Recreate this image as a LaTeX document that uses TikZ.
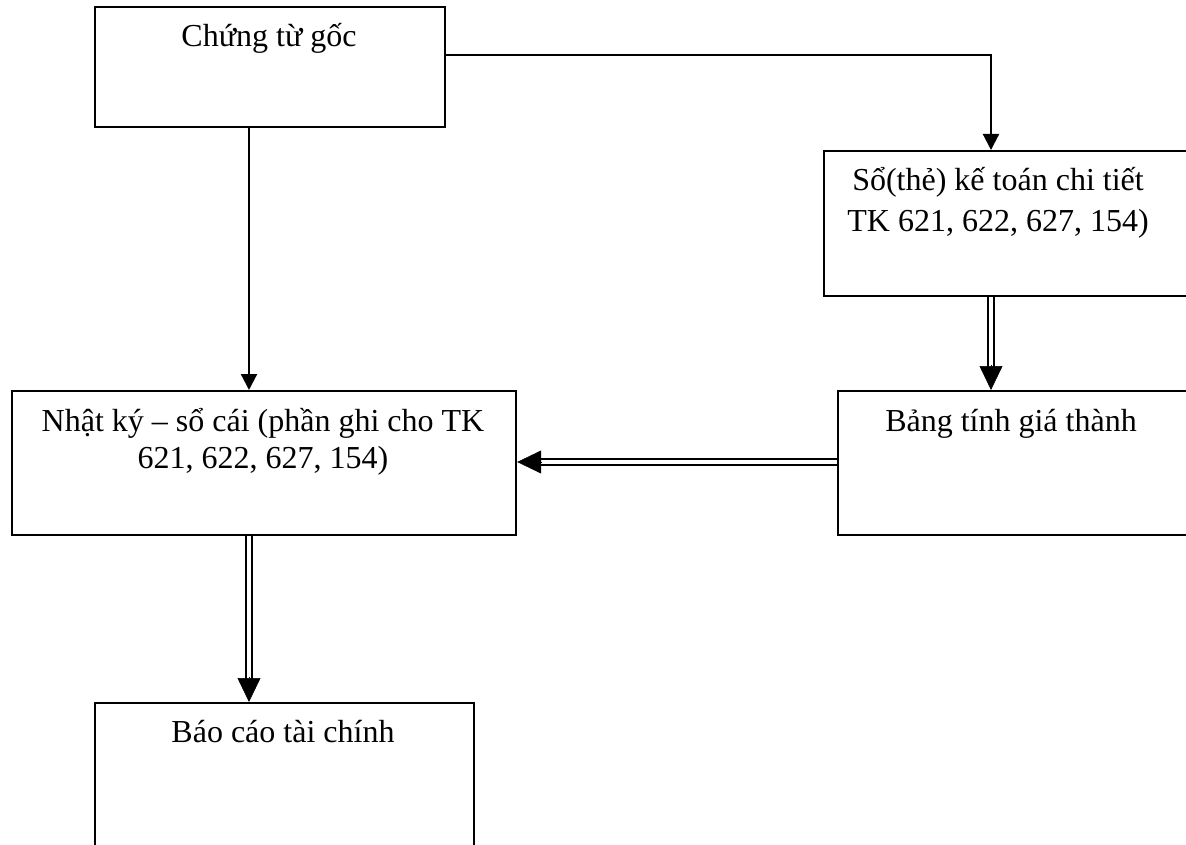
\documentclass[tikz,border=0pt]{standalone}
\usepackage{fontspec}
\setmainfont{Liberation Serif}
\usetikzlibrary{arrows.meta,calc}

\begin{document}
\begin{tikzpicture}[x=1pt,y=-1pt,
  box/.style={draw, line width=2.2pt, rectangle, anchor=north west, inner sep=0pt},
  txt/.style={anchor=base, inner sep=0pt, font=\fontsize{32}{38}\selectfont},
  sline/.style={line width=2.2pt, -{Triangle[length=16pt,width=16pt]}},
  dbl/.style={double, double distance=3.2pt, line width=2pt},
  bigtip/.style={line width=0.6pt, -{Triangle[length=24pt,width=23pt]}}
]
  \clip (0,0) rectangle (1186,845);
  \useasboundingbox (0,0) rectangle (1186,845);

  % boxes
  \node[box, minimum width=350pt, minimum height=120pt] (ct) at (94,6) {};
  \node[box, minimum width=377pt, minimum height=145pt] (so) at (823,150) {};
  \node[box, minimum width=504pt, minimum height=144pt] (nk) at (11,390) {};
  \node[box, minimum width=363pt, minimum height=144pt] (bang) at (837,390) {};
  \node[box, minimum width=379pt, minimum height=160pt] (bc) at (94,702) {};

  % labels
  \node[txt] (t1) at (269,47) {Chứng từ gốc};
  \node[txt] (t2a) at (998,191) {Sổ(thẻ) kế toán chi tiết};
  \node[txt] (t2b) at (998,232) {TK 621, 622, 627, 154)};
  \node[txt] (t3a) at (263,431) {Nhật ký – sổ cái (phần ghi cho TK};
  \node[txt] (t3b) at (263,468) {621, 622, 627, 154)};
  \node[txt] (t4) at (1011,431) {Bảng tính giá thành};
  \node[txt] (t5) at (283,742) {Báo cáo tài chính};

  % routing guides
  \coordinate (colA) at (249,0);
  \coordinate (colC) at (991,0);
  \coordinate (rowA) at (0,55);
  \coordinate (rowB) at (0,462);

  % single-line connectors
  \draw[sline] (ct.east |- rowA) -- (colC |- rowA) -- (so.north -| colC);
  \draw[sline] (ct.south -| colA) -- (nk.north -| colA);

  % double-line connectors
  \draw[dbl] (so.south -| colC) -- ($(bang.north -| colC)+(0,-23)$);
  \draw[bigtip] ($(bang.north -| colC)+(0,-25)$) -- (bang.north -| colC);

  \draw[dbl] (bang.west |- rowB) -- ($(nk.east |- rowB)+(23,0)$);
  \draw[bigtip] ($(nk.east |- rowB)+(25,0)$) -- (nk.east |- rowB);

  \draw[dbl] (nk.south -| colA) -- ($(bc.north -| colA)+(0,-23)$);
  \draw[bigtip] ($(bc.north -| colA)+(0,-25)$) -- (bc.north -| colA);
\end{tikzpicture}
\end{document}
